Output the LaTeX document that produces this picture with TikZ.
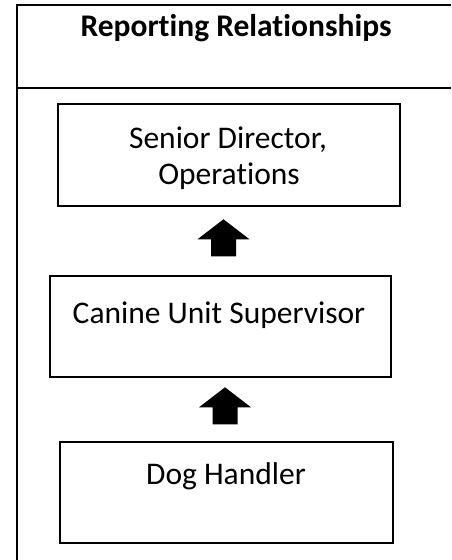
\documentclass[tikz,border=0pt]{standalone}
\usepackage{fontspec}
\setmainfont{Carlito}[Ligatures={NoCommon}]
\usetikzlibrary{calc}
\tikzset{
  frameline/.style={line width=2.2pt},
  rolebox/.style={draw, line width=1.4pt, rectangle, inner sep=0pt},
  roletext/.style={anchor=base, inner sep=0pt},
  uparrow/.pic={
    \fill (-12.5,0) -- (-12.5,-17) -- (-26,-17) -- (0,-37)
          -- (26,-17) -- (12.5,-17) -- (12.5,0) -- cycle;
  }
}
\begin{document}
\begin{tikzpicture}[x=1pt,y=-1pt,font=\fontsize{31.5}{38}\selectfont]
\useasboundingbox (0,0) rectangle (451,560);
% outer table frame
\draw[frameline] (17,560) -- (17,5) -- (451,5);
\draw[frameline] (17,88) -- (451,88);
\node[roletext,font=\fontsize{31.5}{38}\selectfont\bfseries] (title) at (236,36) {Reporting Relationships};
% role boxes
\node[rolebox,minimum width=342pt,minimum height=102pt] (box1) at (229,155) {};
\node[rolebox,minimum width=341pt,minimum height=101pt] (box2) at (220.5,326.5) {};
\node[rolebox,minimum width=333pt,minimum height=101pt] (box3) at (226.5,492.5) {};
\node[roletext] (t1a) at (228,148) {Senior Director,};
\node[roletext] (t1b) at (229,184) {Operations};
\node[roletext] (t2) at (219,323) {Canine Unit Supervisor};
\node[roletext] (t3) at (226,484) {Dog Handler};
% reporting arrows
\pic at ($(box2.north)+(3,-19)$) {uparrow};
\pic at ($(box3.north)+(-1.5,-17)$) {uparrow};
\end{tikzpicture}
\end{document}
